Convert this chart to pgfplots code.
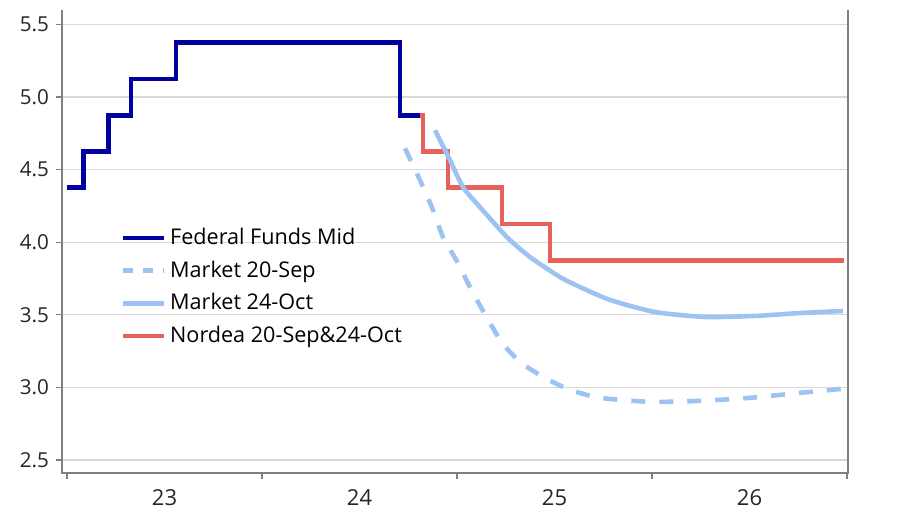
\documentclass[border=0pt]{standalone}
\usepackage{pgfplots}
\pgfplotsset{compat=1.18}
\usepackage{fontspec}
\setmainfont{Open Sans}
\definecolor{fednavy}{HTML}{0000A0}
\definecolor{mktblue}{HTML}{9DC3F2}
\definecolor{nordred}{HTML}{E8625C}
\definecolor{gridgray}{HTML}{D9D9D9}
\definecolor{axgray}{HTML}{808080}
\begin{document}
\begin{tikzpicture}[x=1pt,y=1pt]
\begin{axis}[
  scale only axis,
  width=393pt, height=231.5pt,
  xmin=2022.974, xmax=2027.005,
  ymin=2.41, ymax=5.60,
  axis line style={draw=none},
  xtick={2023,2024,2025,2026,2027},
  xticklabels={23,24,25,26},
  x tick label as interval,
  ytick={2.5,3,3.5,4,4.5,5,5.5},
  yticklabel style={/pgf/number format/.cd, fixed, fixed zerofill, precision=1},
  /pgf/number format/assume math mode=true,
  tick label style={font=\fontsize{10.3}{12}\selectfont, text=black!85},
  xticklabel style={font=\fontsize{11}{13}\selectfont, text=black!85, yshift=-2pt},
  tick align=outside,
  major tick length=3pt,
  tick style={axgray, line width=0.7pt},
  xtick pos=bottom, ytick pos=left,
  ymajorgrids,
  grid style={gridgray, line width=0.6pt},
  clip=false,
  legend style={draw=none, fill=none, at={(rel axis cs:0.074,0.538)}, anchor=north west,
    font=\fontsize{10.8}{13}\selectfont, row sep=2.6pt, inner sep=0pt},
  legend cell align=left,
  legend image code/.code={\draw[#1] (0pt,0pt) -- (20.5pt,0pt);},
]
% axis lines
\draw[axgray, line width=0.8pt] (rel axis cs:0,1) -- (rel axis cs:0,0) -- (rel axis cs:1,0) -- (rel axis cs:1,1);
\addplot[fednavy, line width=2.3pt, const plot, forget plot] coordinates {
 (2023.000,4.375) (2023.084,4.625) (2023.212,4.875) (2023.327,5.125) (2023.559,5.375) (2024.708,4.875) (2024.815,4.875)
};
\addplot[nordred, line width=2.3pt, const plot, forget plot] coordinates {
 (2024.810,4.875) (2024.826,4.625) (2024.954,4.375) (2025.230,4.125) (2025.477,3.875) (2026.985,3.875)
};
\addplot[mktblue, line width=2.3pt, dash pattern=on 7pt off 7pt, smooth, tension=0.4, forget plot] coordinates {
 (2024.733,4.647) (2024.810,4.427) (2024.877,4.221) (2024.928,4.035) (2025.005,3.856) (2025.082,3.650)
 (2025.221,3.327) (2025.323,3.175) (2025.451,3.065) (2025.579,2.983) (2025.733,2.928) (2025.990,2.900)
 (2026.246,2.907) (2026.503,2.928) (2026.759,2.962) (2026.979,2.990)
};
\addplot[mktblue, line width=2.3pt, smooth, tension=0.4, forget plot] coordinates {
 (2024.887,4.771) (2024.964,4.565) (2025.031,4.379) (2025.118,4.241) (2025.256,4.035) (2025.374,3.898)
 (2025.528,3.760) (2025.631,3.691) (2025.785,3.602) (2026.015,3.519) (2026.272,3.485) (2026.528,3.492)
 (2026.759,3.512) (2026.979,3.526)
};
\addlegendimage{fednavy, line width=2.3pt}
\addlegendentry{Federal Funds Mid}
\addlegendimage{mktblue, line width=2.3pt, dash pattern=on 5pt off 5pt}
\addlegendentry{Market 20-Sep}
\addlegendimage{mktblue, line width=2.3pt}
\addlegendentry{Market 24-Oct}
\addlegendimage{nordred, line width=2.3pt}
\addlegendentry{Nordea 20-Sep\&24-Oct}
\path (rel axis cs:-0.0789,-0.0799) rectangle (rel axis cs:1.0662,1.0216);
\end{axis}
\end{tikzpicture}
\end{document}
